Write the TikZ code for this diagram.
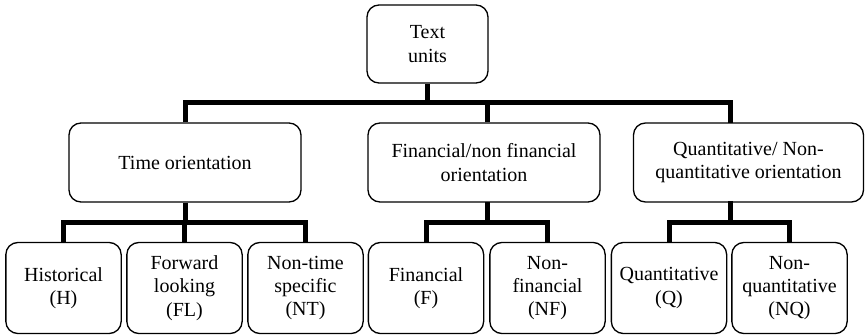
\documentclass[tikz,border=0pt]{standalone}
\usepackage{fontspec}
\setmainfont{Liberation Serif}
\begin{document}
\begin{tikzpicture}[x=0.75pt,y=-0.75pt,
  box/.style={draw, line width=1pt, rounded corners=9pt, align=center, inner sep=0pt,
    font=\fontsize{15}{17.5}\selectfont},
  topbox/.style={box, minimum width=90.75pt, minimum height=58.5pt},
  midbox/.style={box, minimum width=174pt, minimum height=59.25pt},
  botbox/.style={box, minimum width=86.5pt, minimum height=68.25pt},
  conn/.style={line width=3.75pt}]
\useasboundingbox (0,0) rectangle (865,335);
% nodes
\node[topbox] (top) at (427.5,44) {Text\\units};
\node[midbox] (time) at (185,162.5) {Time orientation};
\node[midbox] (fin) at (484,162.5) {Financial/non financial\\orientation};
\node[midbox, minimum width=172.5pt] (quant) at (748.5,162.5) {Quantitative/ Non-\\quantitative orientation};
\node[botbox] (h) at (63.5,288) {Historical\\(H)};
\node[botbox] (fl) at (184.5,288) {Forward\\looking\\(FL)};
\node[botbox] (nt) at (305.5,288) {Non-time\\specific\\(NT)};
\node[botbox] (f) at (426,288) {Financial\\(F)};
\node[botbox] (nf) at (547.5,288) {Non-\\financial\\(NF)};
\node[botbox] (q) at (669,288) {Quantitative\\(Q)};
\node[botbox] (nq) at (789.5,288) {Non-\\quantitative\\(NQ)};
% bus levels and stems
\coordinate (bus1) at (0,103);
\coordinate (bus2) at (0,222);
\coordinate (fs) at (487,202);
\coordinate (qs) at (730,123);
\coordinate (qs2) at (730,201);
% top level
\draw[conn] (top.south) -- (top.south |- bus1);
\draw[conn] (time.north) -- (time.north |- bus1) -- (qs |- bus1) -- (qs);
\draw[conn] (fin.north -| fs) -- (fs |- bus1);
% time group
\draw[conn] (time.south) -- (time.south |- bus2);
\draw[conn] (h.north) -- (h.north |- bus2) -- (nt.north |- bus2) -- (nt.north);
\draw[conn] (fl.north) -- (fl.north |- bus2);
% financial group
\draw[conn] (fs) -- (fs |- bus2);
\draw[conn] (f.north) -- (f.north |- bus2) -- (nf.north |- bus2) -- (nf.north);
% quantitative group
\draw[conn] (qs2) -- (qs2 |- bus2);
\draw[conn] (q.north) -- (q.north |- bus2) -- (nq.north |- bus2) -- (nq.north);
\end{tikzpicture}
\end{document}
